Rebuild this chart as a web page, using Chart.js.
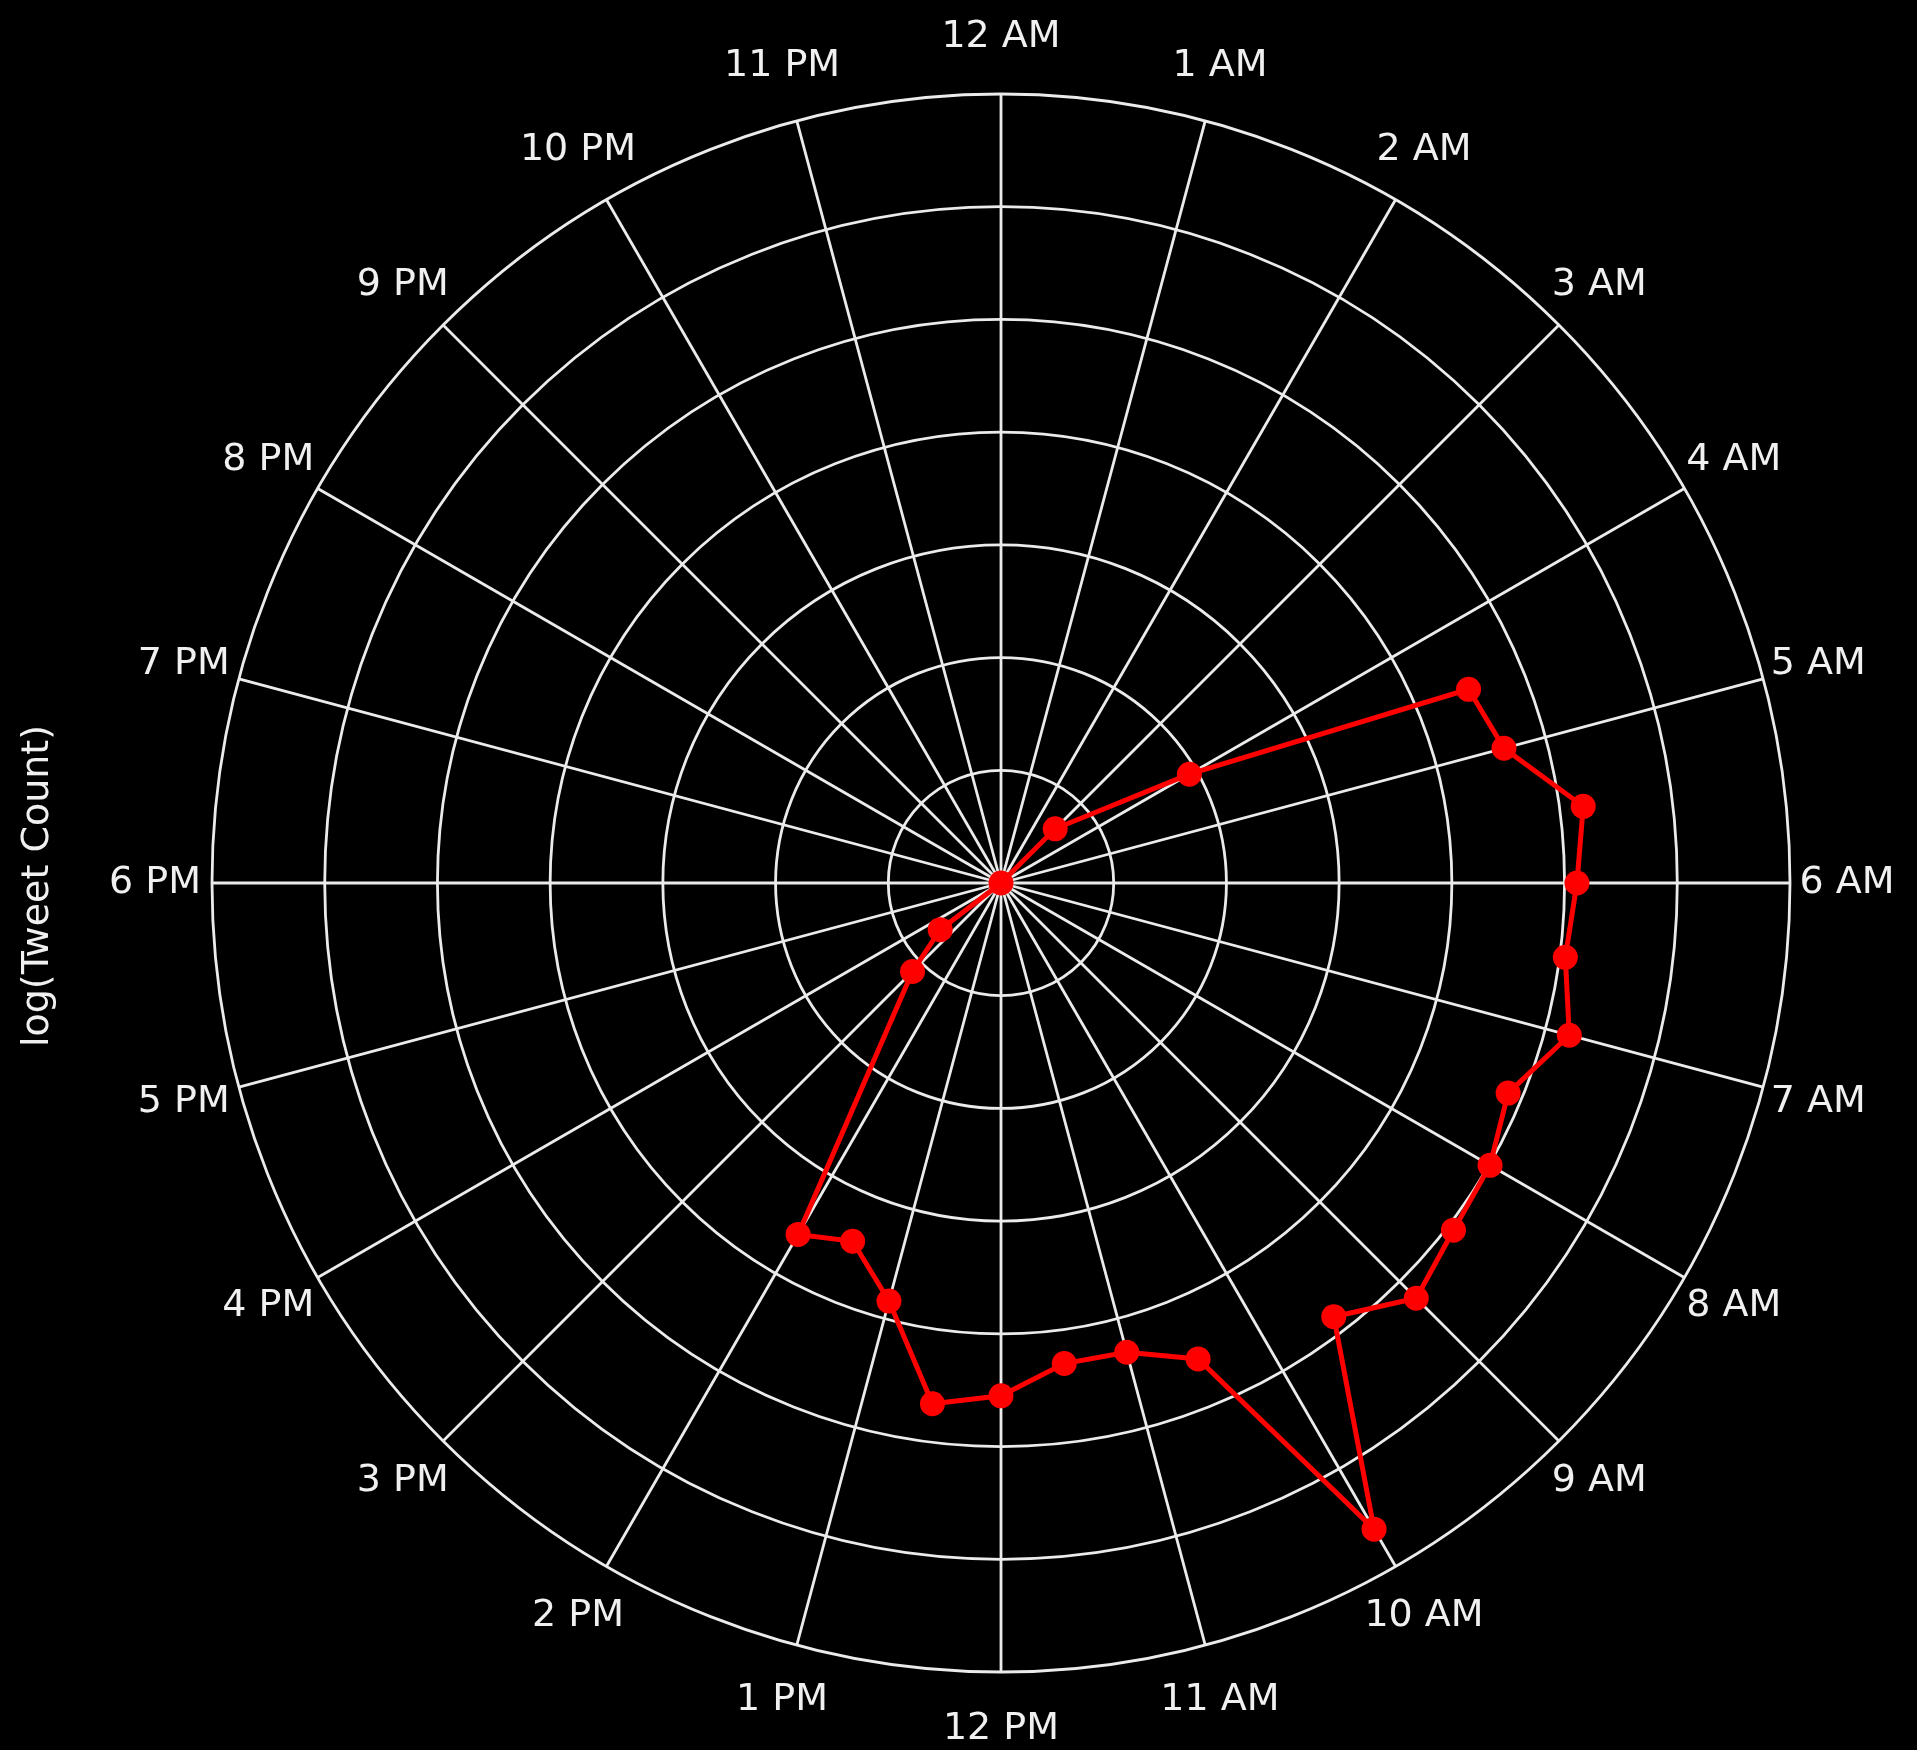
<!DOCTYPE html>
<html>
<head>
<meta charset="utf-8">
<script src="https://cdn.jsdelivr.net/npm/chart.js@4.4.1/dist/chart.umd.min.js"></script>
<style>
    html, body { margin: 0; padding: 0; background: #000; }
    #wrap { position: relative; width: 1917px; height: 1750px; }
</style>
</head>
<body>
<div id="wrap"><canvas id="tweetRadar"></canvas></div>
<script>
// Horas del dia (empieza arriba, sentido horario)
const hourLabels = [
    '12 AM', '1 AM', '2 AM', '3 AM', '4 AM', '5 AM', '6 AM', '7 AM', '8 AM', '9 AM', '10 AM', '11 AM',
    '12 PM', '1 PM', '2 PM', '3 PM', '4 PM', '5 PM', '6 PM', '7 PM', '8 PM', '9 PM', '10 PM', '11 PM'
];

// log(Tweet Count) cada media hora (48 posiciones), null = sin punto
const logCounts = [
    0,    null, null, null, null, null,   // 12 AM - 2:30 AM
    0.68, null, 1.93, 4.49, 4.62, 5.21,   // 3 AM - 5:30 AM
    5.11, 5.05, 5.22, 4.87, 5.01, 5.06,   // 6 AM - 8:30 AM
    5.21, 4.85, 6.62, 4.57, 4.31, 4.30,   // 9 AM - 11:30 AM
    4.55, 4.66, 3.84, 3.44, 3.60, null,   // 12 PM - 2:30 PM
    1.11, 0.68, null, null, null, null,   // 3 PM - 5:30 PM
    null, null, null, null, null, null,   // 6 PM - 8:30 PM
    null, null, null, null, null, null    // 9 PM - 11:30 PM
];

const radialMax = 7;   // numero de anillos
const yTitle = 'log(Tweet Count)';

const gridColor = '#ebebeb';
const textColor = '#f0f0f0';
const lineColor = '#ff0000';

// una etiqueta por hora, la media hora va vacia
const slotLabels = hourLabels.flatMap(h => [h, '']);

// Etiquetas centradas a distancia fija (como matplotlib) + titulo del eje
const hourLabelPlugin = {
    id: 'hourLabelPlugin',
    afterDraw(chart) {
        const scale = chart.scales.r;
        const ctx = chart.ctx;
        const dist = scale.drawingArea + 57;
        ctx.save();
        ctx.fillStyle = textColor;
        ctx.font = '38px "DejaVu Sans"';
        ctx.textAlign = 'center';
        ctx.textBaseline = 'middle';
        chart.data.labels.forEach((label, i) => {
            if (!label) return;
            const p = scale.getPointPosition(i, dist);
            ctx.fillText(label, p.x, p.y);
        });
        ctx.translate(38, scale.yCenter + 3);
        ctx.rotate(-Math.PI / 2);
        ctx.fillText(yTitle, 0, 0);
        ctx.restore();
    }
};

const ctx = document.getElementById('tweetRadar').getContext('2d');
new Chart(ctx, {
    type: 'radar',
    data: {
        labels: slotLabels,
        datasets: [{
            label: yTitle,
            data: logCounts,
            borderColor: lineColor,
            backgroundColor: lineColor,
            pointBackgroundColor: lineColor,
            pointBorderWidth: 0,
            pointRadius: 12.5,
            borderWidth: 5,
            fill: false,
            tension: 0,
            spanGaps: true
        }]
    },
    options: {
        responsive: true,
        maintainAspectRatio: false,
        animation: false,
        layout: { padding: { top: 94, bottom: 78, left: 200, right: 115 } },
        scales: {
            r: {
                min: 0,
                max: radialMax,
                ticks: { stepSize: 1, display: false },
                grid: { circular: true, color: gridColor, lineWidth: 2.8 },
                angleLines: {
                    display: true,
                    lineWidth: 2.8,
                    color: (c) => (c.index % 2 === 0 ? gridColor : 'transparent')
                },
                pointLabels: { display: false }
            }
        },
        plugins: {
            legend: { display: false },
            tooltip: { enabled: false }
        }
    },
    plugins: [hourLabelPlugin]
});
</script>
</body>
</html>
